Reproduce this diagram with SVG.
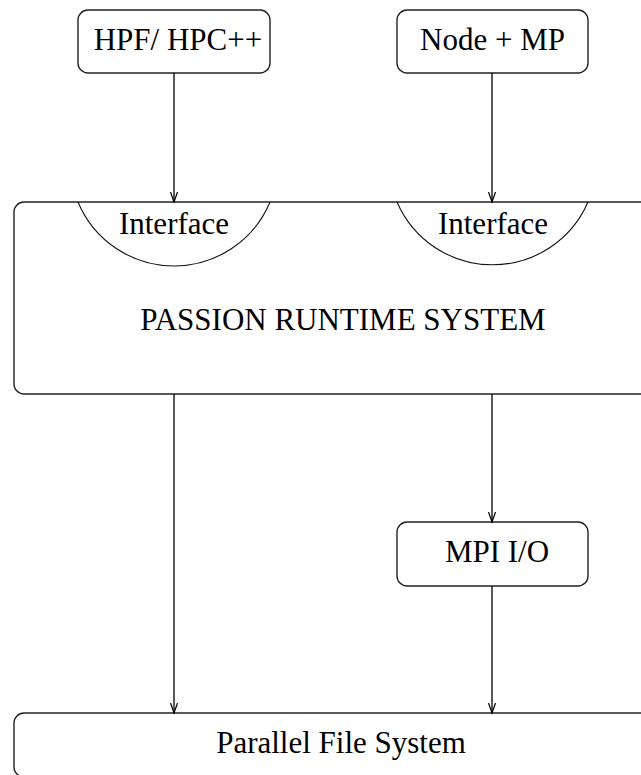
<svg xmlns="http://www.w3.org/2000/svg" width="641" height="775" viewBox="0 0 641 775">
<defs>
<style>
.box{fill:#fff;stroke:#222;stroke-width:1.4}
.arc{fill:none;stroke:#111;stroke-width:1.1}
.t{font-family:"Liberation Serif","Times New Roman",serif;font-size:31px;fill:#000;text-anchor:middle}
.c{fill:none;stroke:#000;stroke-width:1.3}
</style>
<marker id="ah" markerWidth="12" markerHeight="10" refX="10" refY="4" orient="auto" markerUnits="userSpaceOnUse">
<path d="M0,0.5 L10,4 L0,7.5" fill="none" stroke="#000" stroke-width="1.2"/>
</marker>
</defs>
<rect width="641" height="775" fill="#fff"/>
<g id="hpf">
<rect class="box" x="78" y="10" width="192" height="63" rx="10"/>
<text class="t" x="178" y="50">HPF/ HPC++</text>
</g>
<g id="nodemp">
<rect class="box" x="397" y="10" width="191" height="63" rx="10"/>
<text class="t" x="492.5" y="50">Node + MP</text>
</g>
<g id="passion">
<rect class="box" x="14" y="202" width="660" height="192" rx="10"/>
<path class="arc" d="M78,202 A104,104 0 0 0 270,202"/>
<text class="t" x="174" y="234">Interface</text>
<path class="arc" d="M397,202 A104,104 0 0 0 588,202"/>
<text class="t" x="493" y="234">Interface</text>
<text class="t" x="343" y="330">PASSION RUNTIME SYSTEM</text>
</g>
<g id="mpiio">
<rect class="box" x="397" y="522" width="191" height="64" rx="10"/>
<text class="t" x="497" y="562">MPI I/O</text>
</g>
<g id="pfs">
<rect class="box" x="14" y="713" width="660" height="64" rx="10"/>
<text class="t" x="341" y="753">Parallel File System</text>
</g>
<g id="connectors">
<line class="c" x1="174" y1="73" x2="174" y2="202" marker-end="url(#ah)"/>
<line class="c" x1="492" y1="73" x2="492" y2="202" marker-end="url(#ah)"/>
<line class="c" x1="174" y1="394" x2="174" y2="713" marker-end="url(#ah)"/>
<line class="c" x1="492" y1="394" x2="492" y2="522" marker-end="url(#ah)"/>
<line class="c" x1="492" y1="586" x2="492" y2="713" marker-end="url(#ah)"/>
</g>
</svg>
